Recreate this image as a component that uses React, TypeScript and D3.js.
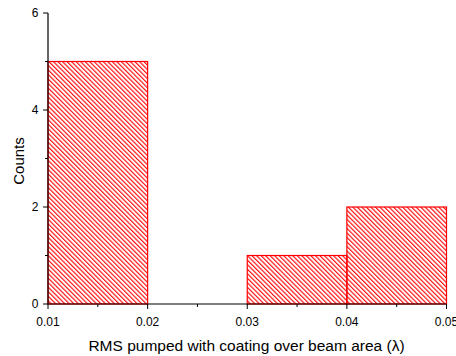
import React from "react";
import * as d3 from "d3";

const binStarts = [0.01, 0.02, 0.03, 0.04];
const binEnds = [0.02, 0.03, 0.04, 0.05];
const counts = [5, 0, 1, 2];
const xTicks = [0.01, 0.02, 0.03, 0.04, 0.05];
const xMinorTicks = [0.015, 0.025, 0.035, 0.045];
const yTicks = [0, 2, 4, 6];
const yMinorTicks = [1, 3, 5];

const W = 456;
const H = 356;
const FONT = "'Liberation Sans', Arial, sans-serif";

export default function App() {
  const x = d3.scaleLinear().domain([0.01, 0.05]).range([48, 446.5]);
  const y = d3.scaleLinear().domain([0, 6]).range([304, 13]);
  const fmt = d3.format(".2f");
  return (
    <svg width={W} height={H} style={{ position: "absolute", left: 0, top: 0 }}>
      <defs>
        <pattern id="hatch" patternUnits="userSpaceOnUse" width={3.2} height={3.2} patternTransform="rotate(-45)">
          <line x1={0.6} y1={0} x2={0.6} y2={3.2} stroke="#ff0000" strokeWidth={1.1} />
        </pattern>
      </defs>
      <rect width={W} height={H} fill="#fff" />
      {counts.map((c, i) =>
        c > 0 ? (
          <rect
            key={i}
            x={x(binStarts[i])}
            y={y(c)}
            width={x(binEnds[i]) - x(binStarts[i])}
            height={y(0) - y(c)}
            fill="url(#hatch)"
            stroke="#ff0000"
            strokeWidth={1.2}
          />
        ) : null
      )}
      {/* axes */}
      <line x1={x(0.01)} x2={x(0.05)} y1={y(0)} y2={y(0)} stroke="#000" strokeWidth={1.2} />
      <line x1={x(0.01)} x2={x(0.01)} y1={y(0)} y2={y(6)} stroke="#000" strokeWidth={1.2} />
      {xTicks.map((t) => (
        <g key={t}>
          <line x1={x(t)} x2={x(t)} y1={y(0)} y2={y(0) + 5} stroke="#000" strokeWidth={1} />
          <text x={x(t)} y={326} textAnchor="middle" fontFamily={FONT} fontSize={12} fill="#000">
            {fmt(t)}
          </text>
        </g>
      ))}
      {xMinorTicks.map((t) => (
        <line key={t} x1={x(t)} x2={x(t)} y1={y(0)} y2={y(0) + 3} stroke="#000" strokeWidth={1} />
      ))}
      {yTicks.map((t) => (
        <g key={t}>
          <line x1={x(0.01) - 5} x2={x(0.01)} y1={y(t)} y2={y(t)} stroke="#000" strokeWidth={1} />
          <text x={38.5} y={y(t) + 4.3} textAnchor="end" fontFamily={FONT} fontSize={12} fill="#000">
            {t}
          </text>
        </g>
      ))}
      {yMinorTicks.map((t) => (
        <line key={t} x1={x(0.01) - 3} x2={x(0.01)} y1={y(t)} y2={y(t)} stroke="#000" strokeWidth={1} />
      ))}
      <text
        transform={`translate(23.5, 161) rotate(-90)`}
        textAnchor="middle"
        fontFamily={FONT}
        fontSize={15}
        fill="#000"
      >
        Counts
      </text>
      <text x={246.5} y={350.5} textAnchor="middle" fontFamily={FONT} fontSize={15.5} fill="#000">
        RMS pumped with coating over beam area (λ)
      </text>
    </svg>
  );
}
